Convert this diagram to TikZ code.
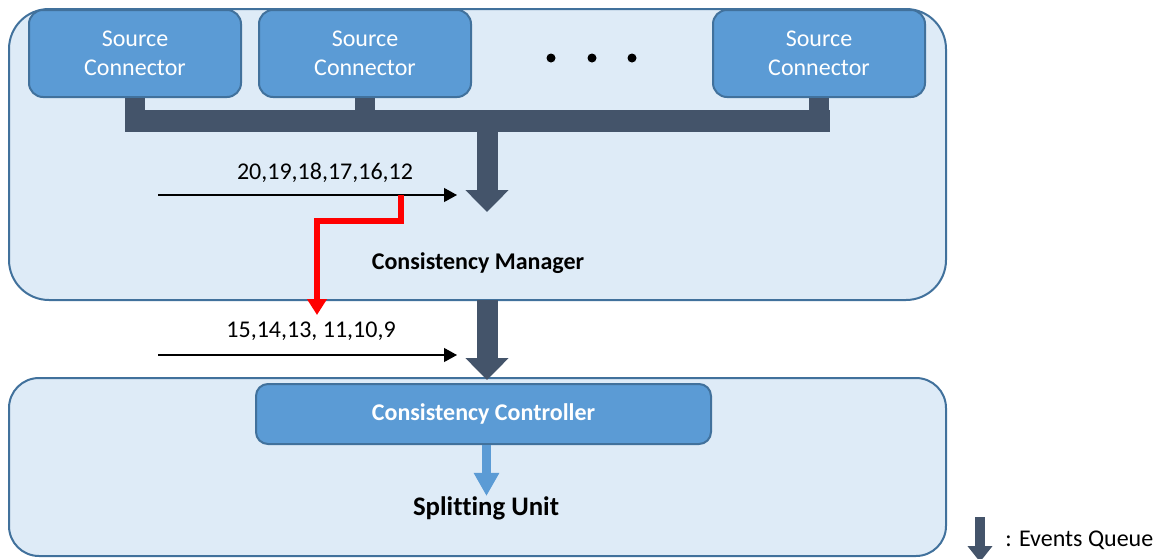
\documentclass[tikz,border=0pt]{standalone}
\usepackage{fontspec}
\setmainfont{Carlito}[Ligatures=NoCommon]
\usetikzlibrary{arrows.meta}
\definecolor{paneFill}{HTML}{DEEBF7}
\definecolor{paneLine}{HTML}{41719C}
\definecolor{unitFill}{HTML}{5B9BD5}
\definecolor{queueDark}{HTML}{44546A}
\definecolor{moveRed}{HTML}{FF0000}
\begin{document}
\begin{tikzpicture}[x=0.5pt,y=-0.5pt,
  font=\fontsize{12}{14.5}\selectfont,
  pane/.style={draw=paneLine, line width=1pt, fill=paneFill, minimum width=468.5pt, inner sep=0pt},
  unit/.style={draw=paneLine, line width=1pt, fill=unitFill, rounded corners=7pt,
    text=white, align=center, inner sep=0pt},
  bus/.style={draw=queueDark, line cap=butt},
  queue/.style={draw=queueDark, line width=10.5pt,
    -{Triangle[length=11pt,width=21pt]}, fill=queueDark},
  feed/.style={draw=black, line width=0.6pt, -{Triangle[length=6.5pt,width=7pt]}},
  lbl/.style={inner sep=0pt}
]
\useasboundingbox (0,0) rectangle (1158,558);

% panes
\node[pane, minimum height=145.5pt, rounded corners=20pt] (mgr) at (477.5,154.5) {};
\node[pane, minimum height=89pt, rounded corners=15pt] (unitpane) at (477.5,467) {};

% source connectors
\node[unit, minimum width=106pt, minimum height=43.5pt, text depth=0.5pt] (src1) at (135,53.5) {Source\\Connector};
\node[unit, minimum width=106pt, minimum height=43.5pt, text depth=0.5pt] (src2) at (365,53.5) {Source\\Connector};
\node[unit, minimum width=106pt, minimum height=43.5pt, text depth=0.5pt] (src3) at (819,53.5) {Source\\Connector};

% ellipsis dots
\foreach \i/\x in {1/551,2/592,3/632}
  \node[circle, fill=black, inner sep=0pt, minimum size=4.5pt] (dot\i) at (\x,58) {};

% collecting bus
\coordinate (busL) at (125,121);
\coordinate (busR) at (830,121);
\draw[bus, line width=11pt] (busL) -- (busR);
\draw[bus, line width=10pt] (src1.south) -- (src1.south |- busL);
\draw[bus, line width=10pt] (src2.south) -- (src2.south |- busL);
\draw[bus, line width=10pt] (src3.south) -- (src3.south |- busL);

% queue into the manager
\coordinate (tap) at (487,121);
\coordinate (mgrIn) at (487,212);
\draw[queue] (tap) -- (mgrIn);

% incoming events, first batch
\coordinate (in1s) at (158,195);
\coordinate (in1e) at (457,195);
\draw[feed] (in1s) -- (in1e);
\node[lbl] (nums1) at (325,173) {20,19,18,17,16,12};

\node[lbl, font=\fontsize{12}{14.5}\selectfont\bfseries] (mgrlbl) at (478,263) {Consistency Manager};

% controller
\node[unit, rounded corners=6pt, minimum width=227.5pt, minimum height=30pt,
  font=\fontsize{12}{14.5}\selectfont\bfseries] (ctrl) at (483.5,414) {Consistency Controller};

% queue from manager to controller
\coordinate (q2s) at (487,300);
\coordinate (q2e) at (487,380);
\draw[queue] (q2s) -- (q2e);

% incoming events, second batch
\coordinate (in2s) at (158,355);
\coordinate (in2e) at (457,355);
\draw[feed] (in2s) -- (in2e);
\node[lbl] (nums2) at (311,331) {15,14,13, 11,10,9};

% events moved back to the later batch
\coordinate (mv0) at (401,195);
\coordinate (mv1) at (317,315);
\draw[draw=moveRed, line width=3pt, line join=miter,
  -{Triangle[length=8pt,width=9.5pt]}] (mv0) -- (401,221) -| (mv1);

% splitting unit
\node[lbl, font=\fontsize{13.4}{16}\selectfont\bfseries] (split) at (486,508) {Splitting Unit};
\draw[draw=unitFill, line width=4.5pt, -{Triangle[length=11.5pt,width=12pt]}]
  ([xshift=1.5pt]ctrl.south) -- ([xshift=1.5pt]ctrl.south |- split.north);

% legend
\coordinate (legS) at (980,517);
\coordinate (legE) at (980,562);
\draw[draw=queueDark, line width=5pt, -{Triangle[length=8pt,width=12pt]}] (legS) -- (legE);
\node[lbl, anchor=west] (legtxt) at (1005,540) {: Events Queue};
\end{tikzpicture}
\end{document}
